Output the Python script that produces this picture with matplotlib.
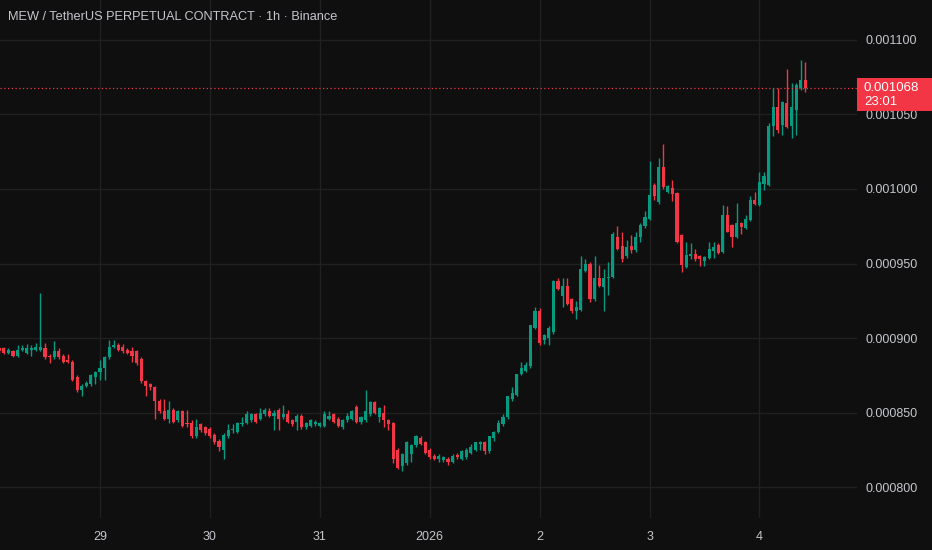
import matplotlib
matplotlib.use("Agg")
import matplotlib.pyplot as plt
import numpy as np
import pandas as pd

# MEW/USDT perp, 1h candles, prices in units of 1e-6
start = "2025-12-28 02:00"
opens = [893, 893, 890, 891, 888, 892, 890, 892, 892, 892, 893, 888, 887, 891, 888, 885, 884, 874, 865, 868,
         869, 874, 877, 880, 887, 894, 895, 894, 892, 891, 891, 886, 871, 869, 867, 858, 851, 846, 852, 845,
         851, 843, 843, 834, 842, 840, 839, 835, 831, 825, 834, 838, 837, 842, 843, 845, 849, 846, 849, 851,
         848, 852, 847, 849, 845, 844, 848, 840, 841, 842, 841, 841, 846, 849, 846, 840, 845, 846, 854, 844,
         845, 849, 857, 847, 850, 845, 843, 825, 814, 816, 822, 828, 833, 830, 825, 821, 819, 818, 819, 817,
         821.5, 819, 820, 823, 825, 829, 830, 824, 833, 837, 842, 847, 859, 862, 876, 878, 881, 907, 918, 899,
         900, 904, 938, 928, 935, 926, 918, 919, 945, 950, 926, 940, 934, 940, 941, 968, 962, 955, 962, 959,
         968, 975, 980, 1003, 991.5, 1015, 998, 1001, 997, 969, 948, 955, 956.4, 955, 952, 953.5, 958.6, 962.4, 958, 982.5,
         975.8, 967.5, 977.4, 973.6, 979.2, 992.6, 989, 1003.3, 1002.7, 1042, 1055.2, 1043, 1057.5, 1042, 1053, 1067.5, 1073]
highs = [894, 894, 893, 892, 895, 895, 896, 895, 897, 930, 897, 889, 898, 893, 889, 889, 885, 875, 869, 871,
         876, 878, 885, 888, 899, 899, 897, 896, 893, 894, 892, 887, 872, 870, 868, 859, 859, 858, 853, 852,
         852, 852, 845, 846, 843, 841, 840, 836, 832, 836, 842, 842, 844, 847, 851, 850, 850, 853, 853, 853,
         852, 853, 855, 852, 846, 849, 849, 844, 846, 845, 844, 851, 851, 850, 847, 846, 850, 852, 855, 848,
         865, 858, 858, 854, 855, 846, 844, 826, 823, 831, 829, 835, 834, 831, 826, 822, 822, 821, 820, 822,
         823, 825, 826, 829, 830, 831, 831, 834, 837.5, 845, 849, 861, 867, 876, 884, 884, 909, 921, 920, 903,
         908, 939, 940, 940, 940, 927, 925, 955, 953, 951, 955, 949, 946, 951, 971, 975, 971, 966, 969, 971,
         977, 985, 1019, 1004, 1020.6, 1030, 1003, 1006, 998, 970, 964.6, 964, 960, 956, 955, 964.6, 964.6, 963.5, 989, 988.6,
         976.5, 990.8, 978, 982.5, 995.3, 998.2, 1011.6, 1011.6, 1044, 1067.5, 1067.5, 1059, 1080.5, 1071, 1071, 1086.5, 1085.4]
lows = [890, 889, 889, 887, 887, 891, 889, 888, 891, 891, 886, 883, 886, 886, 883, 883, 871, 864, 861, 867,
        868, 869, 872, 872, 886, 893, 891, 890, 889, 884, 882, 870, 861, 865, 846, 850, 845, 843, 843, 844,
        840, 840, 833, 833, 837, 835, 833, 829, 824, 819, 833, 836, 836, 841, 842, 844, 843, 845, 848, 847,
        838, 838, 846, 843, 841, 838, 839, 839, 840, 841, 840, 840, 845, 843, 840, 839, 844, 845, 843, 842,
        844, 848, 849, 844, 840, 838, 816, 812, 811, 815, 817, 827, 828, 822, 819, 818, 817, 817, 815, 816,
        819, 818, 819, 822, 824, 825, 822, 823, 831, 836, 841, 846, 858, 861, 875, 877, 880, 906, 895, 896,
        895, 903, 932, 921, 922, 917, 913, 918, 944, 924, 925, 934, 918, 929, 940, 959, 951, 954, 957, 958,
        964.6, 974, 979, 992.6, 990, 1000, 997, 992, 964, 944.5, 947, 953, 952, 948.3, 948.3, 953, 953.5, 956.4, 957, 971,
        961.3, 967, 970, 973, 978.5, 989, 988.5, 999, 1002, 1035.5, 1037.3, 1036, 1041, 1034, 1036, 1066.5, 1065.3]
closes = [891, 890, 892, 888, 892, 893, 893, 893, 894, 894, 887, 887, 891, 887, 884, 884, 872, 865, 868, 870,
          875, 877, 880, 887, 894, 895, 892, 891, 890, 888, 883, 871, 868, 867, 858, 851, 846, 852, 844, 851,
          841, 842, 834, 840, 838, 836, 834, 830, 827, 835, 838, 839, 843, 843, 849, 849, 844, 850, 852, 848,
          850, 846, 849, 844, 842, 848, 840, 843, 845, 844, 843, 849, 848, 844, 841, 845, 848, 851, 844, 847,
          851, 857, 850, 853, 845, 842, 819, 813, 822, 830, 828, 834, 829, 823, 820, 819, 821, 820, 817, 821,
          820, 824, 825, 827, 830, 830, 824, 834, 837, 843, 847, 861, 863, 876, 880, 882, 909, 918, 897, 902,
          907, 938, 933, 935, 923, 918, 921, 946, 950, 926, 940, 935, 940, 941, 970, 960, 953, 961, 959, 967.5,
          976, 981, 996, 995, 1015, 1001.5, 1002, 996.6, 964.6, 949, 955.7, 956.4, 952.8, 952.8, 954.6, 959.5, 961.3, 957.3, 982.5, 971.3,
          967.5, 977.4, 974.2, 979.6, 992.6, 990, 1005, 1008.7, 1042, 1055.2, 1039.6, 1058.6, 1041.8, 1055.2, 1069.8, 1073, 1068]

price_ticks = [0.000800, 0.000850, 0.000900, 0.000950, 0.001000, 0.001050, 0.001100]
title = "MEW / TetherUS PERPETUAL CONTRACT · 1h · Binance"
last_price = "0.001068"
countdown = "23:01"

bg = "#0f0f0f"
up = "#089981"
down = "#f23645"
grid_c = "#202020"
txt = "#c4c6cc"
plt.rcParams['font.family'] = ['Liberation Sans', 'DejaVu Sans']

o = np.array(opens) * 1e-6
h = np.array(highs) * 1e-6
l = np.array(lows) * 1e-6
c = np.array(closes) * 1e-6
times = pd.date_range(start, periods=len(o), freq="h")
x = np.arange(len(o))
col = np.where(c >= o, up, down)

fig = plt.figure(figsize=(9.32, 5.5), dpi=100, facecolor=bg)
ax = fig.add_axes([0, 0.058, 857 / 932, 0.942])
ax.set_facecolor(bg)

ax.vlines(x, l, h, colors=col, linewidth=1, zorder=3)
body = np.maximum(np.abs(c - o), 0.4e-6)
ax.bar(x, body, bottom=np.minimum(o, c), width=0.68, color=col, linewidth=0, zorder=4)

ax.set_xlim(0.17, 187.3)
ax.set_ylim(779.2e-6, 1126.8e-6)

# day ticks at midnight
mid = [i for i, t in enumerate(times) if t.hour == 0]
labels = ["2026" if (times[i].month == 1 and times[i].day == 1) else str(times[i].day) for i in mid]
ax.set_xticks(mid)
ax.set_xticklabels(labels)
ax.set_yticks(price_ticks)
ax.set_yticklabels(["%.6f" % p for p in price_ticks])
ax.yaxis.tick_right()
ax.tick_params(axis='both', length=0, colors=txt, labelsize=9)
ax.tick_params(axis='y', pad=6)
ax.tick_params(axis='x', pad=9)
ax.grid(True, color=grid_c, linewidth=1, zorder=0)
for s in ax.spines.values():
    s.set_visible(False)

ax.axhline(c[-1], color=down, linestyle=(0, (1, 2)), linewidth=0.9, zorder=5)

ax.text(8 / 857, 1 - 17 / 518, title, transform=ax.transAxes, color=txt, fontsize=9.2, va='center', ha='left')

# last price tag on the price scale
yp = ax.transData.transform((0, c[-1]))[1] / 550
fig.patches.append(plt.Rectangle((857 / 932, yp - 23 / 550), 75 / 932, 33 / 550, transform=fig.transFigure,
                                 facecolor=down, edgecolor='none', zorder=10))
fig.text(864 / 932, yp, last_price, color='white', fontsize=9.5, va='center', ha='left', zorder=11)
fig.text(864 / 932, yp - 14 / 550, countdown, color='white', fontsize=9.5, va='center', ha='left', zorder=11)

fig.savefig("out.png", dpi=100, facecolor=bg)
